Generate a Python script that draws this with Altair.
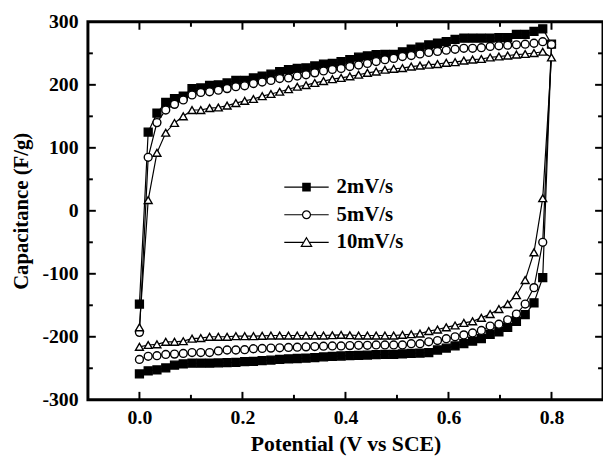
import altair as alt
import pandas as pd

# ---------------- data ----------------
STEP = 0.8 / 47
potential = [round(i * STEP, 4) for i in range(48)]

series_names = ["2mV/s", "5mV/s", "10mV/s"]

# anodic sweep, potential[0] .. potential[47]
anodic_2 = [-148, 125, 155, 172, 178, 182, 194, 195, 199, 200, 203, 207, 207, 211, 214, 217,
            221, 224, 226, 227, 230, 233, 234, 237, 240, 244, 246, 248, 248.5, 248.5, 252.5, 256.5,
            260, 263.5, 266, 268.5, 272, 274, 274, 274, 274, 275, 275, 280, 280, 285, 289, 264.5]
anodic_5 = [-193, 85, 140, 160, 169, 176, 184, 188, 189, 191.5, 194, 197, 198.5, 202, 204.5, 207,
            210, 211, 214, 216, 219, 222, 224.5, 226, 229, 231.5, 234, 237, 240, 242, 245, 246.5,
            249, 251.5, 253, 255, 256.5, 258, 258, 259, 261, 262, 263, 263.5, 264.5, 266, 268.5, 264]
anodic_10 = [-185, 17, 92, 124, 139.5, 150, 160, 160, 163, 164, 167, 171, 174.5, 177.5, 182, 185.5,
             189, 193, 197, 199.5, 203, 206, 209, 211, 213.5, 216, 219, 221, 224, 225.5, 226.5, 229,
             230.5, 232, 233, 235, 236, 238.5, 240, 241, 243.5, 245, 246.5, 248, 249, 250.5, 252.5, 243.5]

# cathodic sweep values at potential[0] .. potential[46] (traversed from high to low)
cathodic_2 = [-259, -254, -252.5, -249.5, -245, -243, -242, -242, -242, -241.5, -241, -240.5,
              -239.5, -239, -238, -237, -236, -235, -234.5, -234, -233, -232, -231, -230.5,
              -230, -229.5, -229, -228.5, -228, -228, -227, -226.5, -226, -225, -221, -218,
              -214.5, -211, -207, -203, -196, -192, -185, -175.5, -165, -146, -106]
cathodic_5 = [-236, -231, -230, -228, -227.5, -226.5, -225, -225, -225, -222.5, -221, -221,
              -220.5, -219, -218.5, -218, -217.5, -217, -216.5, -216, -215.5, -215, -214.5, -214.5,
              -214, -213.5, -213.5, -213, -213, -213, -213, -211, -211, -208, -206, -203,
              -200, -197, -194, -190, -183, -180, -173, -164, -148, -122, -50]
cathodic_10 = [-216, -213, -212, -208, -208, -207, -203, -202, -200, -200, -200, -199,
               -199, -199, -198.5, -198, -198, -198, -198, -198, -198, -198, -197.5, -197,
               -197.5, -198, -198, -198, -198, -198, -197, -196, -195, -191, -188.5, -185,
               -182, -178, -175.5, -170, -164, -156, -148, -134, -110, -66, 20]

x_major = [0.0, 0.2, 0.4, 0.6, 0.8]
x_minor = [0.1, 0.3, 0.5, 0.7]
y_major = [-200, -100, 0, 100, 200]
y_minor = [-250, -150, -50, 50, 150, 250]
y_labels = [-300, -200, -100, 0, 100, 200, 300]

rows = []
for name, fwd, rev in zip(series_names,
                          [anodic_2, anodic_5, anodic_10],
                          [cathodic_2, cathodic_5, cathodic_10]):
    idx = 0
    for i, v in enumerate(fwd):
        rows.append({"series": name, "x": potential[i], "y": v, "idx": idx})
        idx += 1
    for k in range(len(rev) - 1, -1, -1):
        rows.append({"series": name, "x": potential[k], "y": rev[k], "idx": idx})
        idx += 1
df = pd.DataFrame(rows)

# ---------------- styling ----------------
W, H = 522, 383
FONT = "Liberation Serif"
MAJ, MIN = 8, 5

xscale = alt.Scale(domain=[-0.1, 0.9], nice=False, zero=False)
yscale = alt.Scale(domain=[-300, 300], nice=False, zero=False)
xaxis = alt.Axis(values=x_major, format=".1f", title="Potential (V vs SCE)",
                 labelPadding=8, titleY=51, titleBaseline="alphabetic")
yaxis = alt.Axis(values=y_labels, labelExpr="'' + datum.value", title="Capacitance (F/g)",
                 labelPadding=10, titleX=-67, titleY=H / 2, titleAngle=270,
                 titleBaseline="middle", titleAlign="center", titleFontSize=21)

X = lambda f: alt.X(f, type="quantitative", scale=xscale, axis=xaxis)
Y = lambda f: alt.Y(f, type="quantitative", scale=yscale, axis=yaxis)

base = alt.Chart(df)

lines = base.mark_line(color="black", strokeWidth=1.2).encode(
    x=X("x"), y=Y("y"), detail="series:N", order=alt.Order("idx:Q"))

points = base.mark_point(stroke="black", strokeWidth=1.4, opacity=1, size=64).encode(
    x=X("x"), y=Y("y"),
    shape=alt.Shape("series:N", scale=alt.Scale(domain=series_names,
                    range=["square", "circle", "triangle-up"]), legend=None),
    fill=alt.Fill("series:N", scale=alt.Scale(domain=series_names,
                  range=["black", "white", "white"]), legend=None),
)

# legend symbols: connecting line + marker (square made solid with strokes)
sq_fill = "".join(f"M-0.75,{v}H0.75" for v in ["-0.5", "-0.25", "0", "0.25", "0.5"])
leg_paths = [
    "M-4.5,0H-0.75M0.75,0H4.5M-0.75,-0.75H0.75V0.75H-0.75Z" + sq_fill,
    "M-4.5,0H-0.8M0.8,0H4.5M0.8,0A0.8,0.8,0,1,1,-0.8,0A0.8,0.8,0,1,1,0.8,0Z",
    "M-4.5,0H-0.55M0.55,0H4.5M0,-0.95L1.05,0.8H-1.05Z",
]
legend_layer = base.transform_filter("false").mark_point(
    filled=False, color="black", strokeWidth=1.2, opacity=1, size=100).encode(
    x=X("x"), y=Y("y"),
    shape=alt.Shape("series:N", scale=alt.Scale(domain=series_names, range=leg_paths),
                    legend=alt.Legend(
                        title=None, orient="none", legendX=211, legendY=157,
                        labelOffset=20, rowPadding=6, padding=0,
                        labelFont=FONT, labelFontSize=21, labelFontWeight="bold",
                        labelColor="black", symbolStrokeColor="black",
                        symbolStrokeWidth=1.2, symbolOpacity=1,
                        symbolFillColor="white")),
)

def xticks(vals, length, top):
    d = pd.DataFrame({"v": vals})
    if top:
        return alt.Chart(d).mark_rule(color="black", strokeWidth=2).encode(
            x=X("v"), y=alt.value(0), y2=alt.value(length))
    return alt.Chart(d).mark_rule(color="black", strokeWidth=2).encode(
        x=X("v"), y=alt.value(H), y2=alt.value(H - length))

def yticks(vals, length, right):
    d = pd.DataFrame({"v": vals})
    if right:
        return alt.Chart(d).mark_rule(color="black", strokeWidth=2).encode(
            y=Y("v"), x=alt.value(W), x2=alt.value(W - length))
    return alt.Chart(d).mark_rule(color="black", strokeWidth=2).encode(
        y=Y("v"), x=alt.value(0), x2=alt.value(length))

tick_layers = [
    xticks(x_major, MAJ, False), xticks(x_minor, MIN, False),
    xticks(x_major, MAJ, True), xticks(x_minor, MIN, True),
    yticks(y_major, MAJ, False), yticks(y_minor, MIN, False),
    yticks(y_major, MAJ, True), yticks(y_minor, MIN, True),
]

chart = alt.layer(lines, points, legend_layer, *tick_layers).resolve_scale(
    shape="independent", fill="independent"
).resolve_legend(shape="independent", fill="independent").properties(
    width=W, height=H, background="white",
    padding={"left": 81, "top": 11, "right": 0, "bottom": 57},
    autosize=alt.AutoSizeParams(type="none"),
).configure_view(
    stroke="black", strokeWidth=3, fill="white"
).configure_axis(
    domain=False, ticks=False, grid=False,
    labelFont=FONT, labelFontSize=20, labelFontWeight="bold", labelColor="black",
    titleFont=FONT, titleFontSize=22, titleFontWeight="bold", titleColor="black",
)

chart.save("out.html", embed_options={"renderer": "svg", "actions": False})
